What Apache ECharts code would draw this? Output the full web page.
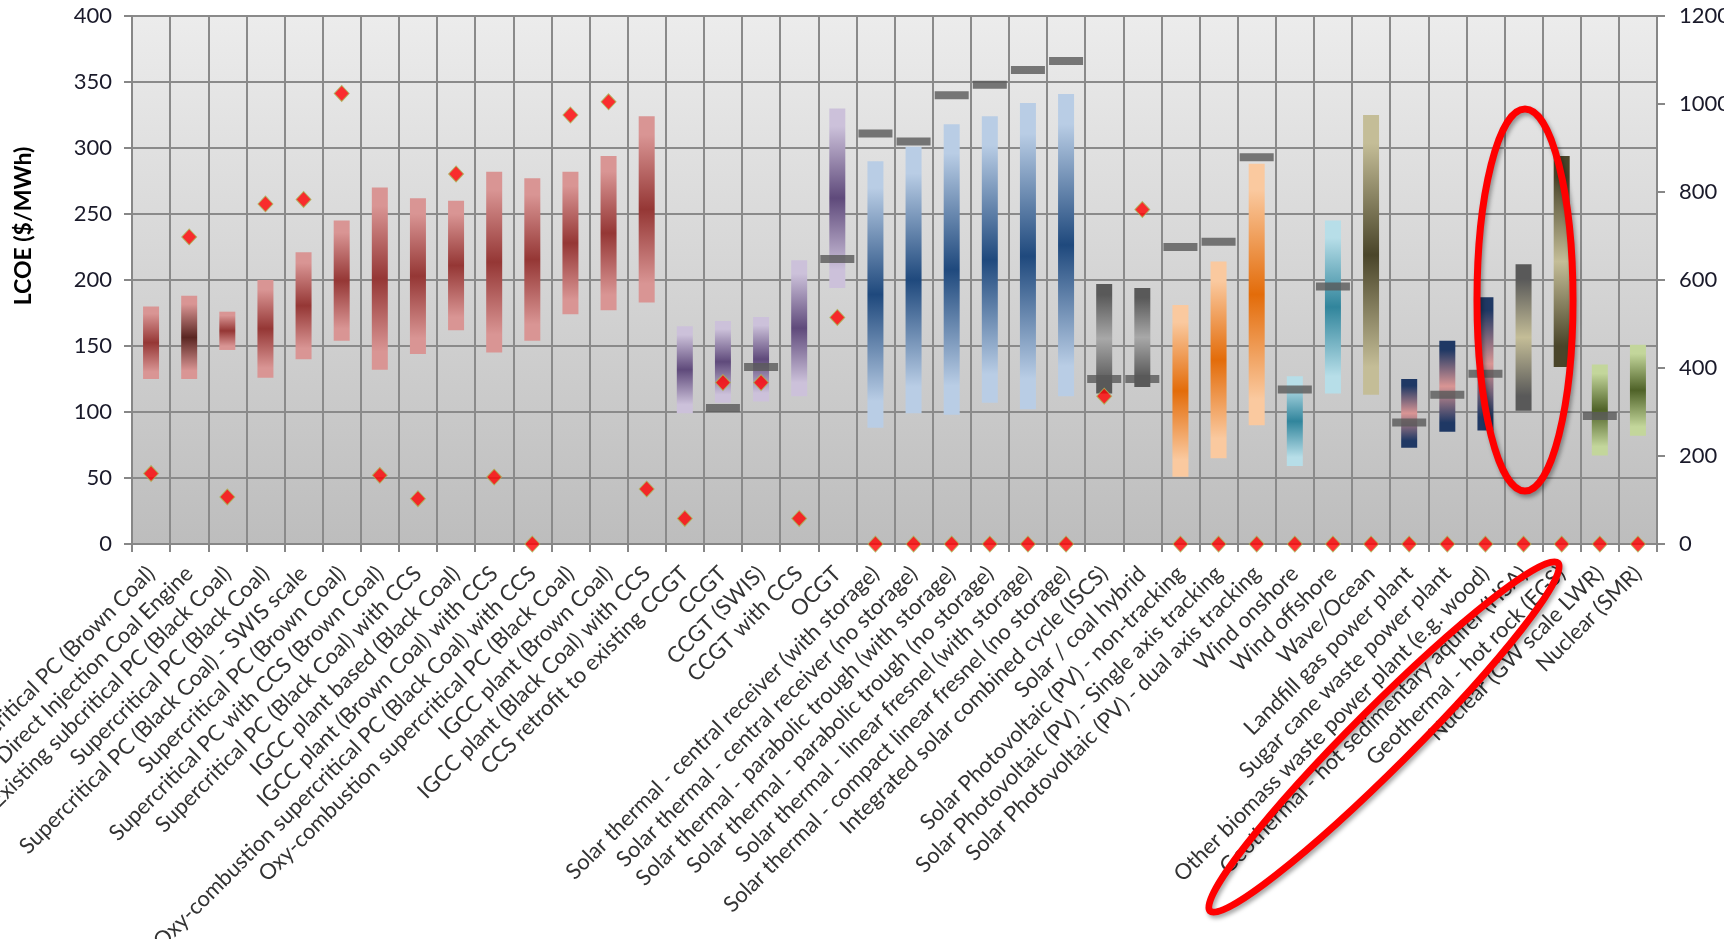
<!DOCTYPE html>
<html><head><meta charset="utf-8">
<script src="https://cdn.jsdelivr.net/npm/echarts@6/dist/echarts.min.js"></script>
<style>html,body{margin:0;padding:0;background:#fff}#chart{width:1724px;height:939px}</style>
</head><body><div id="chart"></div>
<script>
// ---------- DATA ----------
const categories = [
  'Subcritical PC (Brown Coal)',
  'Direct Injection Coal Engine',
  'Existing subcritical PC (Black Coal)',
  'Supercritical PC (Black Coal)',
  'Supercritical PC (Black Coal) - SWIS scale',
  'Supercritical PC (Brown Coal)',
  'Supercritical PC with CCS (Brown Coal)',
  'Supercritical PC (Black Coal) with CCS',
  'IGCC plant based (Black Coal)',
  'IGCC plant (Brown Coal) with CCS',
  'Oxy-combustion supercritical PC (Black Coal) with CCS',
  'Oxy-combustion supercritical PC (Black Coal)',
  'IGCC plant (Brown Coal)',
  'IGCC plant (Black Coal) with CCS',
  'CCS retrofit to existing CCGT',
  'CCGT',
  'CCGT (SWIS)',
  'CCGT with CCS',
  'OCGT',
  'Solar thermal - central receiver (with storage)',
  'Solar thermal - central receiver (no storage)',
  'Solar thermal - parabolic trough (with storage)',
  'Solar thermal - parabolic trough (no storage)',
  'Solar thermal - linear fresnel (with storage)',
  'Solar thermal - compact linear fresnel (no storage)',
  'Integrated solar combined cycle (ISCS)',
  'Solar / coal hybrid',
  'Solar Photovoltaic (PV) - non-tracking',
  'Solar Photovoltaic (PV) - Single axis tracking',
  'Solar Photovoltaic (PV) - dual axis tracking',
  'Wind onshore',
  'Wind offshore',
  'Wave/Ocean',
  'Landfill gas power plant',
  'Sugar cane waste power plant',
  'Other biomass waste power plant (e.g. wood)',
  'Geothermal - hot sedimentary aquifer (HSA)',
  'Geothermal - hot rock (EGS)',
  'Nuclear (GW scale LWR)',
  'Nuclear (SMR)'
];
// LCOE range, $/MWh (left axis)
const lowValues  = [125,125,147,126,140,154,132,144,162,145,154,174,177,183, 99,107,108,112,194, 88, 99, 98,107,102,112,114,119, 51, 65, 90, 59,114,113, 73, 85, 86,101,134, 67, 82];
const highValues = [180,188,176,200,221,245,270,262,260,282,277,282,294,324,165,169,172,215,330,290,301,318,324,334,341,197,194,181,214,288,127,245,325,125,154,187,212,294,136,151];
// dark grey dash markers, $/MWh (left axis)
const markerValues = [null,null,null,null,null,null,null,null,null,null,null,null,null,null,null,103,134,null,216,311,305,340,348,359,366,125,125,225,229,293,117,195,null,92,113,129,null,null,97,null];
// red diamonds (right axis)
const diamondValues = [160,698,107,773,783,1024,156,103,841,152,0,975,1005,125,58,367,367,58,515,0,0,0,0,0,0,336,760,0,0,0,0,0,0,0,0,0,0,0,0,0];
const leftAxisName = 'LCOE ($/MWh)';

// ---------- STYLE ----------
const RED = ['#d99594','#953735'], RED2 = ['#d99594','#5a2622'];
const PUR = ['#ccc1da','#5f4a7b'], BLU = ['#b9cde5','#1f497d'];
const GRY = ['#595959','#a8a8a8'], ORA = ['#fac99f','#e36c0a'];
const TEA = ['#b7dee8','#31859c'], KHA = ['#c4bd97','#4a452a'];
const NAV = ['#1f3864','#d99594'], GKH = ['#595959','#c4bd97'];
const OKH = ['#4a452a','#c4bd97'], GRN = ['#c3d69b','#4f6228'];
const bandStyle = [RED,RED2,RED,RED,RED,RED,RED,RED,RED,RED,RED,RED,RED,RED,
  PUR,PUR,PUR,PUR,PUR,BLU,BLU,BLU,BLU,BLU,BLU,GRY,GRY,ORA,ORA,ORA,TEA,TEA,KHA,
  NAV,NAV,NAV,GKH,OKH,GRN,GRN];

function grad(c){
  return new echarts.graphic.LinearGradient(0,0,0,1,[
    {offset:0,color:c[0]},{offset:0.1,color:c[0]},{offset:0.5,color:c[1]},
    {offset:0.9,color:c[0]},{offset:1,color:c[0]}]);
}

const FONT = 'Lato';
const chart = echarts.init(document.getElementById('chart'));
chart.setOption({
  animation:false,
  backgroundColor:'#ffffff',
  grid:{left:132,right:67,top:16,bottom:395,show:true,borderWidth:0,
    containLabel:false,outerBoundsMode:'none',
    backgroundColor:new echarts.graphic.LinearGradient(0,0,0,1,[
      {offset:0,color:'#ececec'},{offset:1,color:'#bdbdbd'}])},
  xAxis:{type:'category',data:categories,boundaryGap:true,
    axisLine:{lineStyle:{color:'#878787',width:2}},
    axisTick:{show:true,interval:0,length:8,lineStyle:{color:'#878787',width:2}},
    splitLine:{show:true,interval:0,lineStyle:{color:'#8a8a8a',width:2}},
    axisLabel:{interval:0,rotate:45,margin:26,fontFamily:FONT,fontSize:22,color:'#333333',hideOverlap:false}
  },
  yAxis:[
    {type:'value',min:0,max:400,interval:50,position:'left',
     name:leftAxisName,nameLocation:'middle',nameRotate:90,nameGap:97,
     nameTextStyle:{fontFamily:FONT,fontSize:23,fontWeight:'bold',color:'#000',padding:[0,0,0,108]},
     axisLine:{show:true,lineStyle:{color:'#878787',width:2}},
     axisTick:{show:true,length:8,lineStyle:{color:'#878787',width:2}},
     splitLine:{show:true,lineStyle:{color:'#8a8a8a',width:2}},
     axisLabel:{margin:20,fontFamily:FONT,fontSize:22,color:'#1a1a2a'}},
    {type:'value',min:0,max:1200,interval:200,position:'right',
     axisLine:{show:true,lineStyle:{color:'#878787',width:2}},
     axisTick:{show:true,length:8,lineStyle:{color:'#878787',width:2}},
     splitLine:{show:false},
     axisLabel:{margin:22,fontFamily:FONT,fontSize:22,color:'#1a1a2a',formatter:v=>String(v)}}
  ],
  series:[
    {type:'bar',stack:'range',barWidth:16,silent:true,
     itemStyle:{color:'rgba(0,0,0,0)'},data:lowValues},
    {type:'bar',stack:'range',barWidth:16,z:2,
     data:highValues.map((h,i)=>({value:h-lowValues[i],itemStyle:{color:grad(bandStyle[i])}}))},
    {type:'scatter',symbol:'rect',symbolSize:[34,8],z:3,clip:false,
     itemStyle:{color:'#595959'},data:markerValues},
    {type:'scatter',yAxisIndex:1,symbol:'diamond',symbolSize:[15,16],z:4,clip:false,
     itemStyle:{color:'#ff0000',borderColor:'#a9b95a',borderWidth:1},data:diamondValues}
  ],
  graphic:[
    {type:'ellipse',x:1525,y:300,z:100,shape:{cx:0,cy:0,rx:48,ry:191},
     style:{fill:'none',stroke:'#ff0000',lineWidth:7,shadowBlur:4,shadowColor:'rgba(0,0,0,0.35)',shadowOffsetX:2,shadowOffsetY:3}},
    {type:'ellipse',x:1384,y:737,rotation:Math.PI/4,z:100,shape:{cx:0,cy:0,rx:246,ry:30},
     style:{fill:'none',stroke:'#ff0000',lineWidth:7,shadowBlur:4,shadowColor:'rgba(0,0,0,0.35)',shadowOffsetX:2,shadowOffsetY:3}}
  ]
});
</script>
</body></html>
